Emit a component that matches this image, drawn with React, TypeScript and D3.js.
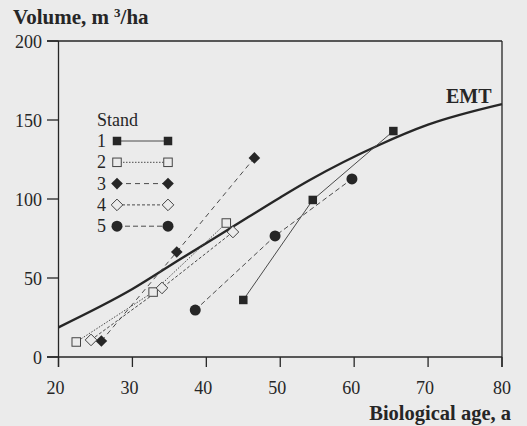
import React from "react";
import * as d3 from "d3";

const xTicks = [20, 30, 40, 50, 60, 70, 80];
const yTicks = [0, 50, 100, 150, 200];

const emtAge = [20, 30, 36.5, 43.3, 50, 54, 63.3, 70, 80];
const emtVol = [18.8, 43, 62, 81.6, 101, 112, 134, 147, 160];

const stand1Age = [45.0, 54.4, 65.3];
const stand1Vol = [36.1, 99.4, 143];
const stand2Age = [22.4, 32.8, 42.7];
const stand2Vol = [9.5, 41.1, 84.8];
const stand3Age = [25.8, 36.0, 46.5];
const stand3Vol = [10.1, 66.5, 126];
const stand4Age = [24.4, 34.0, 43.6];
const stand4Vol = [10.8, 43.7, 79.1];
const stand5Age = [38.5, 49.3, 59.7];
const stand5Vol = [29.7, 76.6, 112.7];

const standLabels = ["1", "2", "3", "4", "5"];

const W = 527;
const H = 426;
const FONT = "'Liberation Serif', 'Times New Roman', serif";
const INK = "#262626";
const BG = "#ebebeb";

type Marker = "sqFill" | "sqOpen" | "diaFill" | "diaOpen" | "circle";

const stands: { age: number[]; vol: number[]; marker: Marker; dash: string | null }[] = [
  { age: stand1Age, vol: stand1Vol, marker: "sqFill", dash: null },
  { age: stand2Age, vol: stand2Vol, marker: "sqOpen", dash: "1.5,1.5" },
  { age: stand3Age, vol: stand3Vol, marker: "diaFill", dash: "5,4" },
  { age: stand4Age, vol: stand4Vol, marker: "diaOpen", dash: "3,2" },
  { age: stand5Age, vol: stand5Vol, marker: "circle", dash: "5,3" },
];

function Sym({ kind, cx, cy }: { kind: Marker; cx: number; cy: number }) {
  const s = 8.5;
  const d = 5.8;
  switch (kind) {
    case "sqFill":
      return <rect x={cx - s / 2} y={cy - s / 2} width={s} height={s} fill={INK} />;
    case "sqOpen":
      return (
        <rect x={cx - s / 2} y={cy - s / 2} width={s} height={s} fill={BG} stroke="#444" strokeWidth={1} />
      );
    case "diaFill":
      return (
        <path d={`M${cx},${cy - d}L${cx + d},${cy}L${cx},${cy + d}L${cx - d},${cy}Z`} fill={INK} />
      );
    case "diaOpen":
      return (
        <path
          d={`M${cx},${cy - d}L${cx + d},${cy}L${cx},${cy + d}L${cx - d},${cy}Z`}
          fill={BG}
          stroke="#444"
          strokeWidth={1}
        />
      );
    case "circle":
      return <circle cx={cx} cy={cy} r={5.5} fill={INK} />;
  }
}

export default function App() {
  const x = d3.scaleLinear().domain([20, 80]).range([58.5, 502]);
  const y = d3.scaleLinear().domain([0, 200]).range([357, 41]);

  const emtLine = d3
    .line<number>()
    .x((_, i) => x(emtAge[i]))
    .y((v) => y(v))
    .curve(d3.curveMonotoneX)(emtVol);

  const standLine = (age: number[], vol: number[]) =>
    d3
      .line<number>()
      .x((_, i) => x(age[i]))
      .y((v) => y(v))(vol);

  const x0 = x(20);
  const x1 = x(80);
  const y0 = y(0);
  const yTop = y(200);

  const legRow = (i: number) => 141 + i * 21.3;
  const legL = 117;
  const legR = 168;

  return (
    <div style={{ position: "fixed", left: 0, top: 0 }}>
      <svg width={W} height={H} style={{ display: "block" }} fontFamily={FONT}>
        <rect x={0} y={0} width={W} height={H} fill={BG} />

        {/* frame */}
        <g stroke={INK} strokeWidth={1.3} fill="none">
          <line x1={x0} y1={yTop} x2={x0} y2={y0 + 10} />
          <line x1={x0 - 11.5} y1={y0} x2={x1} y2={y0} />
          <line x1={x0 - 11.5} y1={yTop} x2={x1} y2={yTop} />
          <line x1={x1} y1={yTop} x2={x1} y2={y0 + 10} />
          {xTicks.map((t) => (
            <line key={"xt" + t} x1={x(t)} x2={x(t)} y1={y0} y2={y0 + 10} />
          ))}
          {yTicks.map((t) => (
            <line key={"yt" + t} x1={x0 - 11.5} x2={x0} y1={y(t)} y2={y(t)} />
          ))}
        </g>

        {/* tick labels */}
        <g fill={INK} fontSize={18}>
          {xTicks.map((t) => (
            <text key={"xl" + t} x={x(t) - (t === 80 ? 0 : 3)} y={394} textAnchor="middle">
              {t}
            </text>
          ))}
          {yTicks.map((t) => (
            <text key={"yl" + t} x={42} y={y(t) + 7} textAnchor="end">
              {t}
            </text>
          ))}
        </g>

        {/* axis titles */}
        <text x={13} y={24} fontSize={21} fontWeight="bold" fill={INK}>
          Volume, m<tspan dx={5} dy={-7} fontSize={13}>3</tspan>
          <tspan dy={7}>/ha</tspan>
        </text>
        <text x={511} y={420} fontSize={20.5} fontWeight="bold" fill={INK} textAnchor="end">
          Biological age, a
        </text>

        {/* EMT curve */}
        <path d={emtLine || ""} fill="none" stroke={INK} strokeWidth={2.4} />
        <text x={446} y={103} fontSize={20} fontWeight="bold" fill={INK}>
          EMT
        </text>

        {/* stand lines */}
        {stands.map((s, i) => (
          <path
            key={"sl" + i}
            d={standLine(s.age, s.vol) || ""}
            fill="none"
            stroke="#4a4a4a"
            strokeWidth={1}
            strokeDasharray={s.dash || undefined}
          />
        ))}
        {stands.map((s, i) =>
          s.age.map((a, j) => <Sym key={"sm" + i + "-" + j} kind={s.marker} cx={x(a)} cy={y(s.vol[j])} />)
        )}

        {/* legend */}
        <text x={97} y={126} fontSize={18} fill={INK}>
          Stand
        </text>
        {stands.map((s, i) => (
          <g key={"lg" + i}>
            <text x={106} y={legRow(i) + 6} fontSize={18} fill={INK} textAnchor="end">
              {standLabels[i]}
            </text>
            <line
              x1={legL}
              x2={legR}
              y1={legRow(i)}
              y2={legRow(i)}
              stroke="#4a4a4a"
              strokeWidth={1}
              strokeDasharray={s.dash || undefined}
            />
            <Sym kind={s.marker} cx={legL} cy={legRow(i)} />
            <Sym kind={s.marker} cx={legR} cy={legRow(i)} />
          </g>
        ))}
      </svg>
    </div>
  );
}
